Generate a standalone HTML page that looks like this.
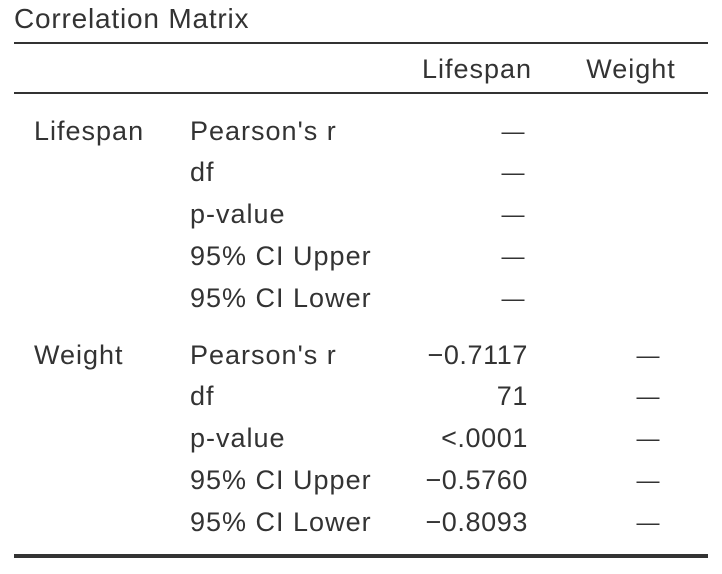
<!DOCTYPE html>
<html><head><meta charset="utf-8"><style>
body{margin:0;width:722px;height:574px;background:#fff;font-family:"Liberation Sans",sans-serif;color:#333;position:relative;overflow:hidden}
.t{position:absolute;font-size:27px;letter-spacing:1px;line-height:30px;white-space:nowrap}
.r{text-align:right}
.c{text-align:center}
.ln{position:absolute;left:14px;width:694px;background:#333}
</style></head><body>
<div class="t" style="left:14px;top:4px;font-size:28px;letter-spacing:0.8px">Correlation Matrix</div>
<div class="ln" style="top:42px;height:2px"></div>
<div class="t c" style="left:402px;width:150px;top:54px">Lifespan</div>
<div class="t c" style="left:556px;width:150px;top:54px">Weight</div>
<div class="ln" style="top:92px;height:2px"></div>
<div class="ln" style="top:554px;height:4px"></div>
<div id="body"></div>
<script>
const stats=["Pearson's r","df","p-value","95% CI Upper","95% CI Lower"];
const vars=["Lifespan","Weight"];
const lifespanCol=[["—","—","—","—","—"],["−0.7117","71","<.0001","−0.5760","−0.8093"]];
const weightCol=[["","","","",""],["—","—","—","—","—"]];
const b=document.getElementById('body');
const tops=[[116,157,199,241,283],[340,381,423,465,507]];
vars.forEach((v,i)=>{
  const d=document.createElement('div');d.className='t';d.style.left='34px';d.style.top=tops[i][0]+'px';d.textContent=v;
  
  
  b.appendChild(d);
  stats.forEach((s,j)=>{
    const y=tops[i][j];
    const l=document.createElement('div');l.className='t';l.style.left='190px';l.style.top=y+'px';l.textContent=s;
    
    
    b.appendChild(l);
    const v1=lifespanCol[i][j];
    const a=document.createElement('div');
    if(v1==='—'){a.className='t c';a.style.left='493px';a.style.width='40px';a.style.fontSize='23px';a.style.letterSpacing='0';}
    else{a.className='t r';a.style.left='380px';a.style.width='148px';a.style.letterSpacing='0.6px';}
    a.style.top=y+'px';a.textContent=v1;
    
    
    b.appendChild(a);
    const w=document.createElement('div');w.className='t c';w.style.left='628px';w.style.width='40px';w.style.fontSize='23px';w.style.letterSpacing='0';w.style.top=y+'px';w.textContent=weightCol[i][j];
    
    
    b.appendChild(w);
  });
});
</script>
</body></html>
